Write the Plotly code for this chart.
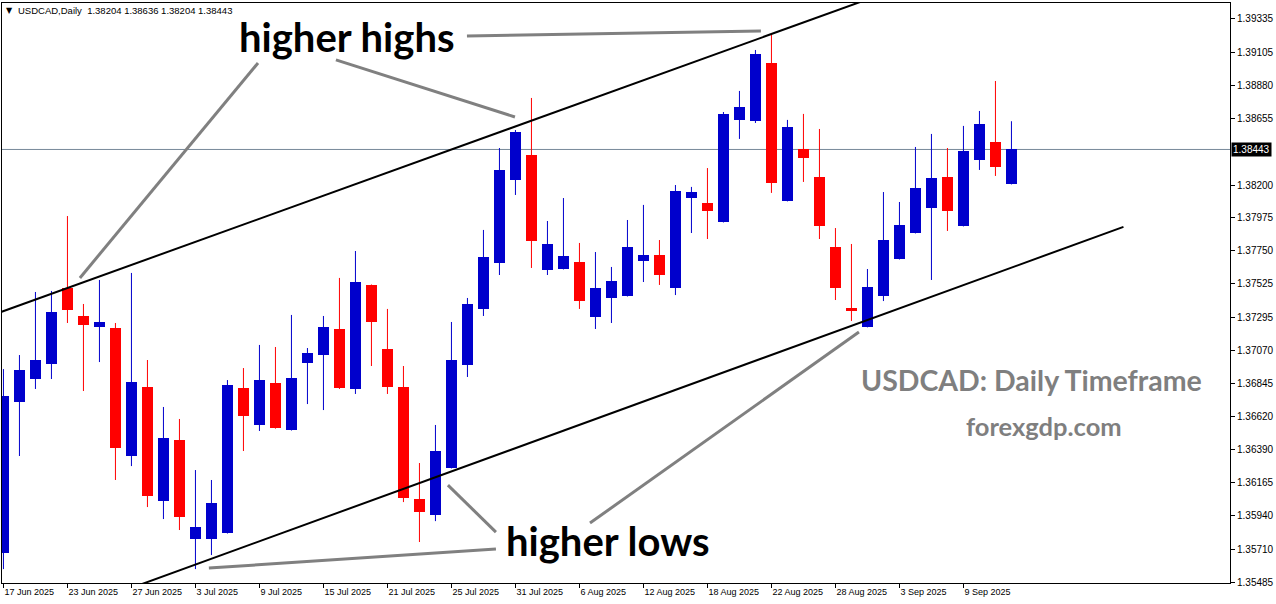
import plotly.graph_objects as go
from datetime import datetime

# ---------------- data ----------------
dates = [
    "2025-06-17", "2025-06-18", "2025-06-19", "2025-06-20", "2025-06-23", "2025-06-24", "2025-06-25", "2025-06-26",
    "2025-06-27", "2025-06-30", "2025-07-01", "2025-07-02", "2025-07-03", "2025-07-04", "2025-07-07", "2025-07-08",
    "2025-07-09", "2025-07-10", "2025-07-11", "2025-07-14", "2025-07-15", "2025-07-16", "2025-07-17", "2025-07-18",
    "2025-07-21", "2025-07-22", "2025-07-23", "2025-07-24", "2025-07-25", "2025-07-28", "2025-07-29", "2025-07-30",
    "2025-07-31", "2025-08-01", "2025-08-04", "2025-08-05", "2025-08-06", "2025-08-07", "2025-08-08", "2025-08-11",
    "2025-08-12", "2025-08-13", "2025-08-14", "2025-08-15", "2025-08-18", "2025-08-19", "2025-08-20", "2025-08-21",
    "2025-08-22", "2025-08-25", "2025-08-26", "2025-08-27", "2025-08-28", "2025-08-29", "2025-09-01", "2025-09-02",
    "2025-09-03", "2025-09-04", "2025-09-05", "2025-09-08", "2025-09-09", "2025-09-10", "2025-09-11", "2025-09-12",
]
opens = [
    1.35685, 1.36717, 1.36874, 1.36977, 1.37496, 1.37305, 1.37230, 1.37223,
    1.36348, 1.36819, 1.36040, 1.36457, 1.35780, 1.35780, 1.35821, 1.36812,
    1.36560, 1.36847, 1.36525, 1.36983, 1.37038, 1.37216, 1.36806, 1.37517,
    1.37079, 1.36819, 1.36054, 1.35944, 1.36266, 1.36970, 1.37353, 1.37667,
    1.38234, 1.38405, 1.37619, 1.37626, 1.37674, 1.37298, 1.37428, 1.37441,
    1.37681, 1.37722, 1.37496, 1.38111, 1.38077, 1.37947, 1.38645, 1.38638,
    1.39034, 1.38091, 1.38446, 1.38255, 1.37776, 1.37359, 1.37230, 1.37441,
    1.37694, 1.37872, 1.38043, 1.38255, 1.37920, 1.38371, 1.38494, 1.38204,
]
highs = [
    1.36942, 1.37038, 1.37469, 1.37476, 1.37988, 1.37387, 1.37551, 1.37257,
    1.37599, 1.37004, 1.36683, 1.36601, 1.36252, 1.36184, 1.36867, 1.36949,
    1.37107, 1.37093, 1.37312, 1.37086, 1.37305, 1.37565, 1.37749, 1.37520,
    1.37353, 1.36963, 1.36300, 1.36560, 1.37264, 1.37428, 1.37893, 1.38453,
    1.38576, 1.38795, 1.37954, 1.38111, 1.37804, 1.37742, 1.37640, 1.37961,
    1.38064, 1.37824, 1.38200, 1.38187, 1.38316, 1.38699, 1.38843, 1.39123,
    1.39232, 1.38645, 1.38686, 1.38583, 1.37906, 1.37797, 1.37626, 1.38152,
    1.38084, 1.38460, 1.38549, 1.38453, 1.38604, 1.38706, 1.38911, 1.38636,
]
lows = [
    1.35575, 1.36348, 1.36806, 1.36874, 1.37257, 1.36792, 1.36990, 1.36184,
    1.36279, 1.35999, 1.35917, 1.35842, 1.35575, 1.35671, 1.35818, 1.36382,
    1.36519, 1.36535, 1.36522, 1.36703, 1.36662, 1.36806, 1.36772, 1.36963,
    1.36772, 1.36033, 1.35760, 1.35903, 1.36263, 1.36888, 1.37305, 1.37585,
    1.38132, 1.37633, 1.37585, 1.37623, 1.37353, 1.37216, 1.37257, 1.37438,
    1.37537, 1.37517, 1.37448, 1.37872, 1.37831, 1.37944, 1.38515, 1.38624,
    1.38146, 1.38088, 1.38221, 1.37831, 1.37414, 1.37271, 1.37227, 1.37407,
    1.37691, 1.37869, 1.37551, 1.37886, 1.37917, 1.38303, 1.38262, 1.38204,
]
closes = [
    1.36758, 1.36936, 1.37004, 1.37332, 1.37346, 1.37243, 1.37264, 1.36402,
    1.36854, 1.36074, 1.36471, 1.35931, 1.35862, 1.36026, 1.36833, 1.36621,
    1.36867, 1.36539, 1.36881, 1.37052, 1.37230, 1.36812, 1.37537, 1.37264,
    1.36819, 1.36061, 1.35965, 1.36382, 1.37004, 1.37387, 1.37708, 1.38303,
    1.38563, 1.37818, 1.37797, 1.37715, 1.37407, 1.37496, 1.37544, 1.37776,
    1.37722, 1.37585, 1.38159, 1.38152, 1.38023, 1.38686, 1.38733, 1.39096,
    1.38214, 1.38597, 1.38385, 1.37920, 1.37496, 1.37339, 1.37503, 1.37824,
    1.37927, 1.38180, 1.38248, 1.38023, 1.38433, 1.38617, 1.38323, 1.38443,
]

symbol = "USDCAD,Daily"
price_ticks = [1.39335, 1.39105, 1.38880, 1.38655, 1.38200, 1.37975, 1.37750, 1.37525, 1.37295,
               1.37070, 1.36845, 1.36620, 1.36390, 1.36165, 1.35940, 1.35710, 1.35485]

# channel anchor points (bar index, price)
upper_channel_x = [4, 48]
upper_channel_y = [1.37496, 1.39232]
lower_channel_x = [12, 70]
lower_channel_y = [1.35606, 1.37914]

# connector lines for labels (bar index, price) pairs
connector_x0 = [15.91, 20.78, 28.97, 30.78, 30.78, 36.66]
connector_y0 = [1.39034, 1.39055, 1.39219, 1.35712, 1.35828, 1.35890]
connector_x1 = [4.78, 31.97, 47.34, 12.84, 27.78, 53.47]
connector_y1 = [1.37565, 1.38665, 1.39253, 1.35582, 1.36149, 1.37195]

# ---------------- figure ----------------
BLUE = "#0000CC"
RED = "#FF0000"
idx = list(range(len(dates)))
tick_idx = idx[::4]
tick_text = [datetime.strptime(dates[i], "%Y-%m-%d").strftime("%-d %b %Y") for i in tick_idx]

colors = [BLUE if c >= o else RED for o, c in zip(opens, closes)]

fig = go.Figure()

for col in (BLUE, RED):
    wx, wy = [], []
    for i in idx:
        if colors[i] == col:
            wx += [i, i, None]
            wy += [lows[i], highs[i], None]
    fig.add_trace(go.Scatter(x=wx, y=wy, mode="lines", line=dict(color=col, width=1),
                             hoverinfo="skip", showlegend=False))

bases = [min(o, c) for o, c in zip(opens, closes)]
heights = [max(abs(c - o), 0.00007) for o, c in zip(opens, closes)]
fig.add_trace(go.Bar(x=idx, y=heights, base=bases, width=0.69,
                     marker=dict(color=colors, line=dict(width=0)),
                     hoverinfo="skip", showlegend=False))


def extend(xs, ys, x_from, x_to):
    s = (ys[1] - ys[0]) / (xs[1] - xs[0])
    return [x_from, x_to], [ys[0] + s * (x_from - xs[0]), ys[0] + s * (x_to - xs[0])]


ux, uy = extend(upper_channel_x, upper_channel_y, -1, 58)
lx, ly = extend(lower_channel_x, lower_channel_y, 0, lower_channel_x[1])
for xx, yy in ((ux, uy), (lx, ly)):
    fig.add_trace(go.Scatter(x=xx, y=yy, mode="lines", line=dict(color="black", width=2),
                             hoverinfo="skip", showlegend=False))

shapes = [dict(type="line", xref="paper", x0=0, x1=1, yref="y", y0=closes[-1], y1=closes[-1],
               line=dict(color="#778899", width=1), layer="below")]
for a, b, c, d in zip(connector_x0, connector_y0, connector_x1, connector_y1):
    shapes.append(dict(type="line", xref="x", yref="y", x0=a, y0=b, x1=c, y1=d,
                       line=dict(color="#808080", width=3)))

big = dict(family="Lato", size=40, color="black", weight="bold")
nb = "\u00a0"
header = (symbol + nb * 2 + nb.join(f"{v:.5f}" for v in (opens[-1], highs[-1], lows[-1], closes[-1])))
annotations = [
    dict(text="higher highs", x=14.59, y=1.39215, xref="x", yref="y", xanchor="left", yanchor="middle",
         showarrow=False, font=big),
    dict(text="higher lows", x=31.28, y=1.35770, xref="x", yref="y", xanchor="left", yanchor="middle",
         showarrow=False, font=big),
    dict(text="USDCAD: Daily Timeframe", x=64.25, y=1.36865, xref="x", yref="y", xanchor="center",
         yanchor="middle", showarrow=False,
         font=dict(family="Lato", size=28.5, color="#7f7f7f", weight="bold")),
    dict(text="forexgdp.com", x=65.03, y=1.36552, xref="x", yref="y", xanchor="center",
         yanchor="middle", showarrow=False,
         font=dict(family="Lato", size=25.5, color="#7f7f7f", weight="bold")),
    dict(text="\u25BC", x=0, y=1, xref="paper", yref="paper", xanchor="left", yanchor="top",
         xshift=2, yshift=-1, showarrow=False, font=dict(family="DejaVu Sans", size=8, color="black")),
    dict(text=header, x=0, y=1, xref="paper", yref="paper", xanchor="left", yanchor="top",
         xshift=14, yshift=0, showarrow=False, font=dict(family="Liberation Sans", size=9.5, color="black")),
    dict(text=f"{closes[-1]:.5f}", x=1, y=closes[-1], xref="paper", yref="y", xanchor="left",
         yanchor="middle", xshift=1, showarrow=False, bgcolor="black", borderpad=1,
         font=dict(family="Liberation Sans", size=10, color="white")),
]

fig.update_layout(
    width=1276, height=604,
    margin=dict(l=2, r=46, t=3, b=21, autoexpand=False),
    plot_bgcolor="white", paper_bgcolor="white",
    showlegend=False, bargap=0,
    shapes=shapes, annotations=annotations,
    xaxis=dict(range=[-0.09, 76.66], showgrid=False, zeroline=False, showline=True, mirror=True,
               linecolor="black", linewidth=1, ticks="outside", ticklen=4, tickcolor="black",
               tickvals=tick_idx, ticktext=tick_text, ticklabelposition="outside right",
               tickangle=0, automargin=False,
               tickfont=dict(family="Liberation Sans", size=9, color="black"), fixedrange=True),
    yaxis=dict(range=[1.35480, 1.39444], side="right", showgrid=False, zeroline=False, showline=True,
               mirror=True, linecolor="black", linewidth=1, ticks="outside", ticklen=4,
               tickcolor="black", tickvals=price_ticks, ticktext=[f"{v:.5f}" for v in price_ticks],
               automargin=False, tickfont=dict(family="Liberation Sans", size=10, color="black"),
               fixedrange=True),
)

fig.write_html("out.html", config={"displayModeBar": False, "staticPlot": True},
               post_script="document.body.style.margin='0';document.body.style.overflow='hidden';")
